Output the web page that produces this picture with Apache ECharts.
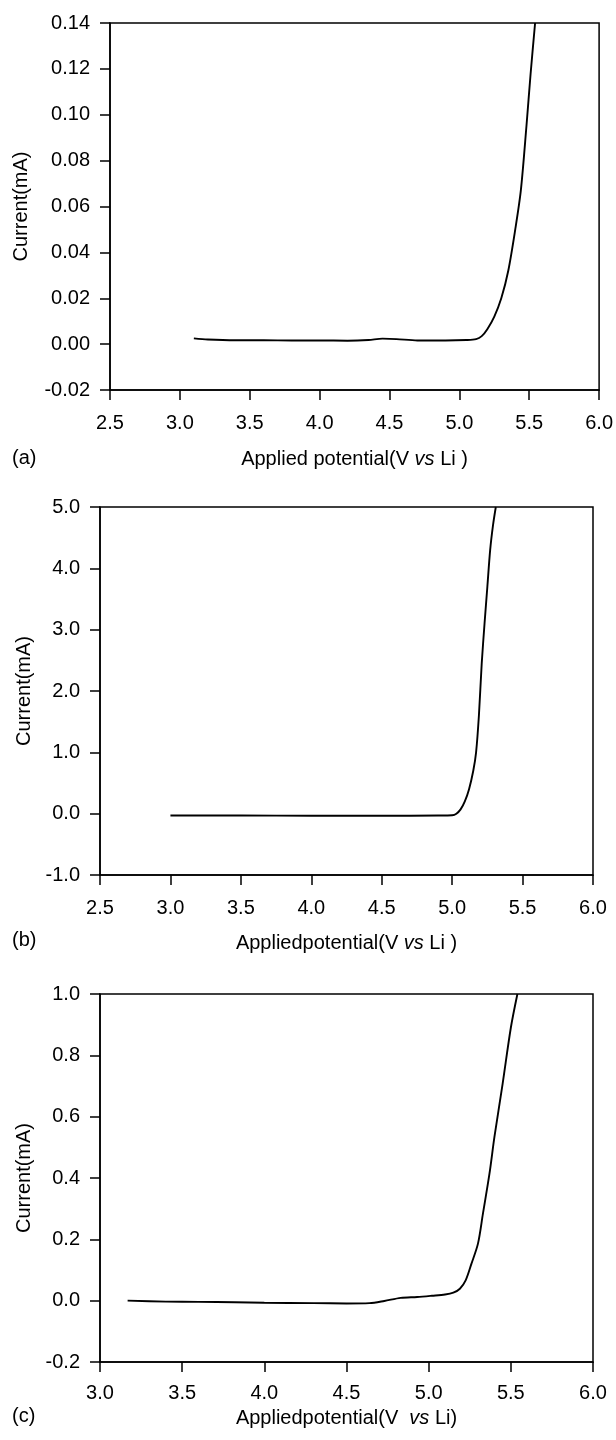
<!DOCTYPE html>
<html>
<head>
<meta charset="utf-8">
<script src="https://cdn.jsdelivr.net/npm/echarts@6/dist/echarts.min.js"></script>
<style>
html,body{margin:0;padding:0;background:#fff;}
#chart{width:616px;height:1440px;}
</style>
</head>
<body>
<div id="chart"></div>
<script>
// Panel (a)
var xA = [3.10, 3.20, 3.40, 3.60, 3.80, 4.00, 4.20, 4.35, 4.45, 4.55, 4.70, 4.90, 5.05, 5.12, 5.16, 5.20, 5.25, 5.30, 5.35, 5.40, 5.44, 5.48, 5.51, 5.542];
var yA = [0.0025, 0.0020, 0.0017, 0.0017, 0.0016, 0.0016, 0.0015, 0.0018, 0.0024, 0.0022, 0.0016, 0.0016, 0.0018, 0.0022, 0.0035, 0.0065, 0.012, 0.020, 0.032, 0.050, 0.067, 0.095, 0.118, 0.140];
// Panel (b)
var xB = [3.00, 3.50, 4.00, 4.50, 4.90, 5.00, 5.03, 5.06, 5.09, 5.12, 5.15, 5.17, 5.19, 5.21, 5.23, 5.25, 5.27, 5.29, 5.31];
var yB = [-0.03, -0.03, -0.035, -0.035, -0.03, -0.025, 0.0, 0.07, 0.2, 0.4, 0.7, 1.0, 1.6, 2.45, 3.1, 3.7, 4.3, 4.7, 5.0];
// Panel (c)
var xC = [3.168, 3.40, 3.60, 3.82, 4.00, 4.30, 4.50, 4.64, 4.73, 4.83, 4.93, 5.02, 5.10, 5.15, 5.19, 5.225, 5.26, 5.30, 5.33, 5.37, 5.40, 5.45, 5.50, 5.54];
var yC = [0.0, -0.003, -0.004, -0.005, -0.007, -0.008, -0.009, -0.008, -0.001, 0.009, 0.012, 0.016, 0.020, 0.026, 0.039, 0.066, 0.12, 0.186, 0.283, 0.414, 0.533, 0.707, 0.89, 1.0];

var panelLabels = ['(a)', '(b)', '(c)'];
var xNames = ['Applied potential(V {i|vs} Li )', 'Appliedpotential(V {i|vs} Li )', 'Appliedpotential(V  {i|vs} Li)'];
var yName = 'Current(mA)';

var FONT = '"Liberation Sans", Arial, Helvetica, sans-serif';
var FS = 20;

function zip(xs, ys){ return xs.map(function(x,i){ return [x, ys[i]]; }); }

var grids = [
  {left:110, right:16, top:23, height:367},
  {left:100, right:23, top:507, height:368},
  {left:100, right:23, top:994, height:368}
];
grids.forEach(function(g){ g.show = true; g.borderColor = '#000'; g.borderWidth = 1.5; g.backgroundColor = 'transparent'; });

var xRanges = [[2.5, 6.0, 0.5], [2.5, 6.0, 0.5], [3.0, 6.0, 0.5]];
var yRanges = [[-0.02, 0.14, 0.02, 2], [-1.0, 5.0, 1.0, 1], [-0.2, 1.0, 0.2, 1]];
var xGaps = [59, 58, 46];
var yGaps = [79, 60, 60];
var xMargins = [23, 23, 21];

var axisLine = {show:true, onZero:false, lineStyle:{color:'#000', width:1.5}};
var axisTick = {show:true, length:10, inside:false, lineStyle:{color:'#000', width:1.5}};

var xAxes = xRanges.map(function(r, i){
  return {
    type:'value', gridIndex:i, min:r[0], max:r[1], interval:r[2],
    axisLine:axisLine, axisTick:axisTick, splitLine:{show:false},
    axisLabel:{color:'#000', fontSize:FS, fontFamily:FONT, margin:xMargins[i],
      formatter:function(v){ return v.toFixed(1); }},
    name:xNames[i], nameLocation:'middle', nameGap:xGaps[i],
    nameTextStyle:{color:'#000', fontSize:FS, fontFamily:FONT,
      rich:{i:{fontStyle:'italic', fontSize:FS, fontFamily:FONT, color:'#000'}}}
  };
});
var yAxes = yRanges.map(function(r, i){
  return {
    type:'value', gridIndex:i, min:r[0], max:r[1], interval:r[2],
    axisLine:axisLine, axisTick:axisTick, splitLine:{show:false},
    axisLabel:{color:'#000', fontSize:FS, fontFamily:FONT, margin:20,
      formatter:function(v){ return v.toFixed(r[3]); }},
    name:yName, nameLocation:'middle', nameGap:yGaps[i],
    nameTextStyle:{color:'#000', fontSize:FS, fontFamily:FONT}
  };
});

var datasets = [zip(xA, yA), zip(xB, yB), zip(xC, yC)];
var series = datasets.map(function(d, i){
  return {
    type:'line', xAxisIndex:i, yAxisIndex:i, data:d, showSymbol:false, symbol:'none',
    smooth:0.3, lineStyle:{color:'#000', width:1.9}, clip:true, animation:false
  };
});

var labelCenters = [459, 941, 1417];
var graphics = panelLabels.map(function(t, i){
  return {type:'text', left:12, top:labelCenters[i]-11,
    style:{text:t, fill:'#000', font:FS + 'px ' + FONT}};
});

var chart = echarts.init(document.getElementById('chart'), null, {renderer:'canvas'});
chart.setOption({
  backgroundColor:'#fff',
  animation:false,
  grid:grids,
  xAxis:xAxes,
  yAxis:yAxes,
  series:series,
  graphic:graphics
});
</script>
</body>
</html>
